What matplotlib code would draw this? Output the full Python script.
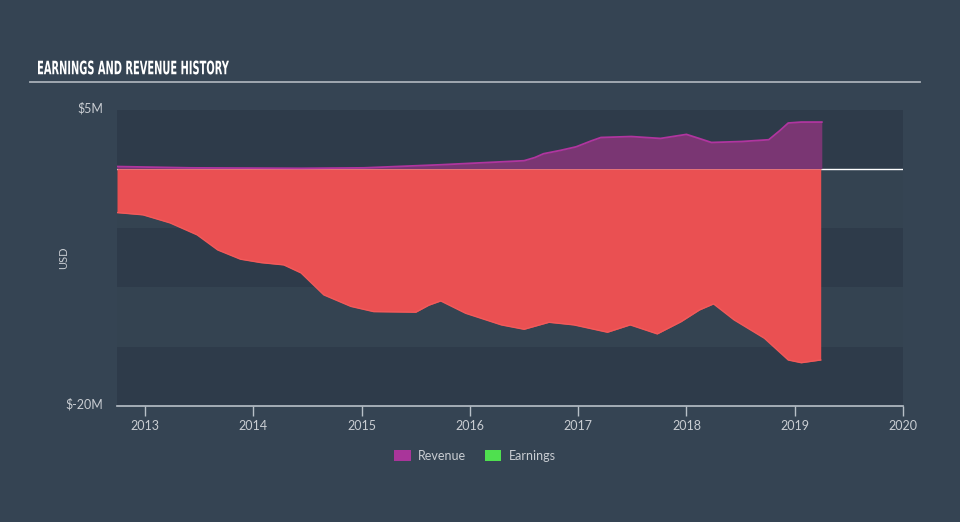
import matplotlib
matplotlib.use("Agg")
import matplotlib.pyplot as plt
from matplotlib.patches import Patch, PathPatch
from matplotlib.textpath import TextPath
from matplotlib.font_manager import FontProperties
from matplotlib.transforms import Affine2D, IdentityTransform

# values in $M, x in fractional years
revenue_years = [2012.74, 2013.42, 2014.44, 2015.02, 2015.73, 2016.50, 2016.60,
                 2016.68, 2016.84, 2016.98, 2017.12, 2017.21, 2017.49, 2017.76,
                 2018.00, 2018.12, 2018.23, 2018.51, 2018.76, 2018.86, 2018.94,
                 2019.06, 2019.25]
revenue = [0.19, 0.08, 0.04, 0.08, 0.34, 0.68, 0.95,
           1.27, 1.56, 1.85, 2.35, 2.64, 2.72, 2.56,
           2.90, 2.55, 2.22, 2.30, 2.45, 3.20, 3.86,
           3.94, 3.94]

earnings_years = [2012.74, 2012.98, 2013.23, 2013.48, 2013.67, 2013.88, 2014.07,
                  2014.28, 2014.44, 2014.65, 2014.90, 2015.11, 2015.50, 2015.62,
                  2015.73, 2015.96, 2016.29, 2016.50, 2016.73, 2016.96, 2017.27,
                  2017.48, 2017.73, 2017.95, 2018.12, 2018.25, 2018.44, 2018.72,
                  2018.94, 2019.06, 2019.24]
earnings = [-3.69, -3.88, -4.56, -5.57, -6.84, -7.62, -7.91,
            -8.10, -8.78, -10.63, -11.60, -12.04, -12.09, -11.50,
            -11.14, -12.18, -13.16, -13.53, -12.94, -13.16, -13.78,
            -13.16, -13.92, -12.89, -11.90, -11.39, -12.74, -14.29,
            -16.12, -16.35, -16.12]

year_ticks = [2013, 2014, 2015, 2016, 2017, 2018, 2019, 2020]

BG = "#354453"
DARK = "#2e3b4a"
LIGHT = "#344351"
TEXT = "#c9cdd2"

plt.rcParams["font.family"] = ["Lato", "DejaVu Sans"]

fig = plt.figure(figsize=(9.6, 5.22), dpi=100, facecolor=BG)
ax = fig.add_axes([117 / 960, 1 - 406 / 522, (903 - 117) / 960, (406 - 109.5) / 522])
ax.set_facecolor(LIGHT)

# alternating horizontal bands
for top, dark in zip([5, 0, -5, -10, -15], [True, False, True, False, True]):
    ax.axhspan(top - 5, top, color=DARK if dark else LIGHT, lw=0, zorder=0)

ax.axhline(0, color="white", lw=1, zorder=1)

ax.fill_between(revenue_years, 0, revenue, color="#7a3673", lw=0, zorder=2)
ax.plot(revenue_years, revenue, color="#b0359f", lw=1.3, zorder=3)
ax.fill_between(earnings_years, 0, earnings, color="#ea5052", lw=0, zorder=2)
ax.plot(earnings_years, earnings, color="#f25a5a", lw=1.0, zorder=3)

ax.set_xlim(2012.74, 2020)
ax.set_ylim(-20, 5)

for s in ["top", "right", "left"]:
    ax.spines[s].set_visible(False)
ax.spines["bottom"].set_color("#b8c0c8")
ax.spines["bottom"].set_linewidth(1.2)

ax.set_xticks(year_ticks)
ax.set_xticklabels([str(y) for y in year_ticks])
ax.tick_params(axis="x", colors="#b8c0c8", labelcolor=TEXT, labelsize=9,
               length=7, width=1, direction="out", pad=3)
ax.set_yticks([])

fig.text(103 / 960, 1 - 108 / 522, "$5M", color=TEXT, fontsize=9, ha="right", va="center")
fig.text(103 / 960, 1 - 404 / 522, "$-20M", color=TEXT, fontsize=9, ha="right", va="center")
fig.text(64 / 960, 1 - 258 / 522, "USD", color=TEXT, fontsize=8, rotation=90,
         ha="center", va="center")

# condensed title: squeeze a bold text path to the reference box
title_path = TextPath((0, 0), "EARNINGS AND REVENUE HISTORY", size=20,
                      prop=FontProperties(family="DejaVu Sans", weight="bold"))
ext = title_path.get_extents()
sx = 191 / ext.width
sy = 14 / ext.height
tr = Affine2D().translate(-ext.x0, -ext.y0).scale(sx, sy).translate(38, 522 - 74.5)
fig.add_artist(PathPatch(title_path, transform=tr + IdentityTransform(),
                         facecolor="white", edgecolor="none"))
fig.add_artist(plt.Line2D([30 / 960, 920 / 960], [1 - 82 / 522, 1 - 82 / 522],
                          color="#a9b0b8", lw=1.3))

handles = [Patch(facecolor="#a9359a", label="Revenue"),
           Patch(facecolor="#4fe04f", label="Earnings")]
fig.legend(handles=handles, loc="center", bbox_to_anchor=(475 / 960, 1 - 456 / 522),
           ncol=2, frameon=False, fontsize=9, labelcolor=TEXT,
           handlelength=1.3, handleheight=1.0, columnspacing=1.5, handletextpad=0.6)

fig.savefig("out.png", dpi=100, facecolor=BG)
